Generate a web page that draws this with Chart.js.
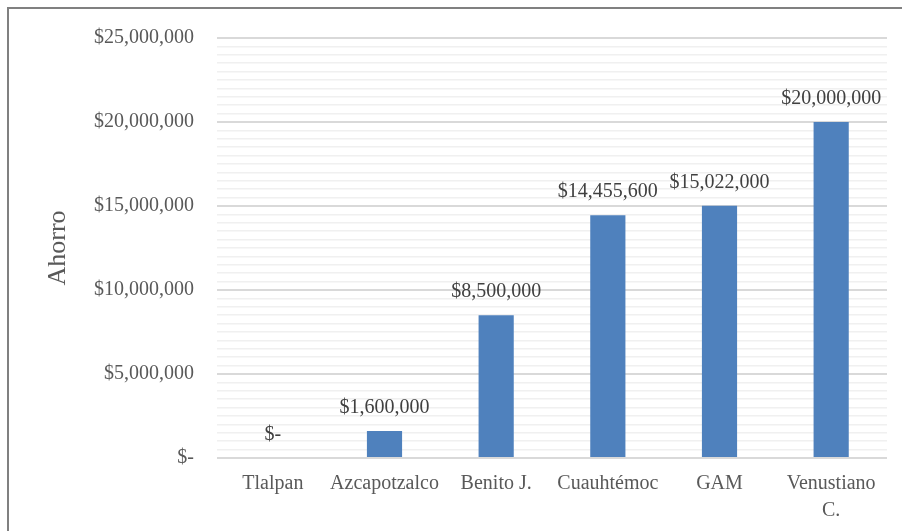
<!DOCTYPE html>
<html>
<head>
<meta charset="utf-8">
<script src="https://cdn.jsdelivr.net/npm/chart.js@4.4.0/dist/chart.umd.min.js"></script>
<style>
  html, body { margin: 0; padding: 0; background: #fff; overflow: hidden; }
  #wrap { position: absolute; left: 0; top: 0; width: 902px; height: 531px; }
  #frame { position: absolute; left: 7px; top: 7px; width: 1000px; height: 1000px; border: 2px solid #808080; pointer-events: none; }
</style>
</head>
<body>
<div id="wrap"><canvas id="c" width="902" height="531"></canvas></div>
<div id="frame"></div>
<script>
const categories = ['Tlalpan', 'Azcapotzalco', 'Benito J.', 'Cuauhtémoc', 'GAM', ['Venustiano', 'C.']];
const ahorro = [0, 1600000, 8500000, 14455600, 15022000, 20000000];
const yMin = 0, yMax = 25000000, minorStep = 500000, majorStep = 5000000;

const FONT = '"Liberation Serif", "Times New Roman", serif';

function money(v) {
  if (v === 0) return '$-';
  return '$' + Math.round(v).toLocaleString('en-US');
}

const dataLabels = {
  id: 'dataLabels',
  afterDatasetsDraw(chart) {
    const ctx = chart.ctx;
    const meta = chart.getDatasetMeta(0);
    ctx.save();
    ctx.font = '20px ' + FONT;
    ctx.fillStyle = '#404040';
    ctx.textAlign = 'center';
    ctx.textBaseline = 'middle';
    meta.data.forEach((bar, i) => {
      ctx.fillText(money(ahorro[i]), bar.x, bar.y - 23);
    });
    ctx.restore();
  }
};

new Chart(document.getElementById('c'), {
  type: 'bar',
  data: {
    labels: categories,
    datasets: [{
      data: ahorro,
      backgroundColor: '#4f81bd',
      borderWidth: 0,
      barPercentage: 0.315,
      categoryPercentage: 1
    }]
  },
  options: {
    responsive: false,
    animation: false,
    devicePixelRatio: 1,
    layout: { padding: { left: 20, top: 38, right: 15, bottom: 0 } },
    plugins: { legend: { display: false }, tooltip: { enabled: false } },
    scales: {
      x: {
        grid: { display: false, drawTicks: false },
        border: { display: false },
        ticks: {
          color: '#595959',
          font: { family: FONT, size: 20, lineHeight: 1.35 },
          padding: 12,
          maxRotation: 0,
          autoSkip: false
        },
        afterFit(scale) { scale.height = 531 - 458; }
      },
      y: {
        min: yMin,
        max: yMax,
        border: { display: false },
        grid: {
          drawTicks: false,
          color: (c) => (c.tick && c.tick.value % majorStep === 0) ? '#d9d9d9' : '#f0f0f0',
          lineWidth: (c) => (c.tick && c.tick.value % majorStep === 0) ? 2 : 1.5
        },
        ticks: {
          stepSize: minorStep,
          autoSkip: false,
          color: '#595959',
          font: { family: FONT, size: 20 },
          padding: 23,
          callback: (v) => (v % majorStep === 0) ? money(v) : ''
        },
        title: {
          display: true,
          text: 'Ahorro',
          color: '#595959',
          font: { family: FONT, size: 26, lineHeight: 1.2 },
          padding: { top: 23, bottom: 0 }
        },
        afterFit(scale) { scale.width = 217 - 20; }
      }
    }
  },
  plugins: [dataLabels]
});
</script>
</body>
</html>
